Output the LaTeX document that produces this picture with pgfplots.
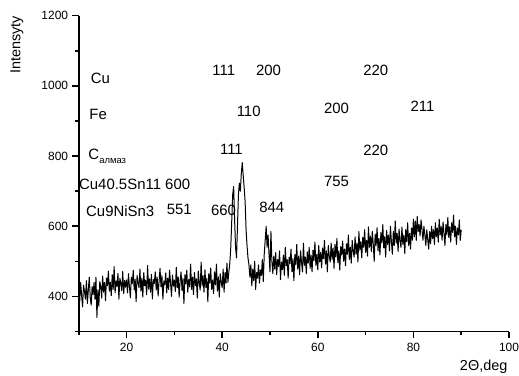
\documentclass[border=0pt]{standalone}
\usepackage{pgfplots}
\pgfplotsset{compat=1.18}
\usepackage{pgfplotstable}
\usepackage{fontspec}
\setmainfont{Liberation Sans}
\pgfplotstableread{
x y
10.0 422
10.2 385
10.4 440
10.6 402
10.8 370
11.0 432
11.2 415
11.4 392
11.6 445
11.8 380
12.0 418
12.2 455
12.4 398
12.6 375
12.8 428
13.0 405
13.2 440
13.4 392
13.6 455
13.8 340
14.0 418
14.2 372
14.4 442
14.6 428
14.8 395
15.0 458
15.2 412
15.4 440
15.6 388
15.8 452
16.0 430
16.2 472
16.4 415
16.6 441
16.8 402
17.0 462
17.2 420
17.4 485
17.6 410
17.8 444
18.0 429
18.2 466
18.4 392
18.6 452
18.8 438
19.0 416
19.2 471
19.4 408
19.6 446
19.8 426
20.0 447
20.2 410
20.4 465
20.6 428
20.8 396
21.0 455
21.2 437
21.4 474
21.6 418
21.8 449
22.0 385
22.2 460
22.4 440
22.6 425
22.8 478
23.0 415
23.2 452
23.4 398
23.6 468
23.8 430
24.0 446
24.2 405
24.4 488
24.6 421
24.8 450
25.0 412
25.2 463
25.4 393
25.6 448
25.8 437
26.0 470
26.2 418
26.4 455
26.6 401
26.8 442
27.0 480
27.2 427
27.4 459
27.6 392
27.8 444
28.0 433
28.2 467
28.4 410
28.6 452
28.8 420
29.0 475
29.2 438
29.4 400
29.6 461
29.8 429
30.0 447
30.2 414
30.4 483
30.6 425
30.8 456
31.0 398
31.2 443
31.4 470
31.6 417
31.8 451
32.0 380
32.2 462
32.4 436
32.6 475
32.8 412
33.0 448
33.2 427
33.4 492
33.6 420
33.8 455
34.0 405
34.2 468
34.4 431
34.6 450
34.8 395
35.0 472
35.2 440
35.4 418
35.6 498
35.8 430
36.0 459
36.2 412
36.4 476
36.6 425
36.8 452
37.0 385
37.2 465
37.4 438
37.6 481
37.8 420
38.0 447
38.2 408
38.4 470
38.6 433
38.8 492
39.0 415
39.2 456
39.4 398
39.6 464
39.8 441
40.0 425
40.2 478
40.4 412
40.6 468
40.8 438
41.0 495
41.2 440
41.4 470
41.6 495
41.8 540
42.0 615
42.2 690
42.4 713
42.6 620
42.8 540
43.0 510
43.2 600
43.4 690
43.6 723
43.8 700
44.0 750
44.2 781
44.4 745
44.6 710
44.8 670
45.0 590
45.2 545
45.4 510
45.6 490
45.8 455
46.0 490
46.2 430
46.4 478
46.6 445
46.8 500
47.0 420
47.2 468
47.4 452
47.6 490
47.8 438
48.0 475
48.2 460
48.4 505
48.6 442
48.8 520
49.0 560
49.2 600
49.4 540
49.6 575
49.8 520
50.0 470
50.2 585
50.4 500
50.6 465
50.8 515
51.0 478
51.2 525
51.4 462
51.6 505
51.8 485
52.0 530
52.2 448
52.4 498
52.6 476
52.8 518
53.0 460
53.2 540
53.4 487
53.6 505
53.8 452
54.0 512
54.2 494
54.4 535
54.6 470
54.8 508
55.0 445
55.2 520
55.4 490
55.6 548
55.8 478
56.0 515
56.2 462
56.4 530
56.6 497
56.8 470
57.0 552
57.2 488
57.4 512
57.6 465
57.8 527
58.0 495
58.2 540
58.4 480
58.6 518
58.8 470
59.0 532
59.2 502
59.4 555
59.6 488
59.8 520
60.0 476
60.2 545
60.4 498
60.6 526
60.8 482
61.0 538
61.2 508
61.4 560
61.6 492
61.8 530
62.0 470
62.2 545
62.4 515
62.6 498
62.8 552
63.0 505
63.2 538
63.4 480
63.6 548
63.8 512
64.0 565
64.2 496
64.4 530
64.6 475
64.8 542
65.0 518
65.2 558
65.4 500
65.6 535
65.8 488
66.0 550
66.2 520
66.4 575
66.6 505
66.8 540
67.0 495
67.2 560
67.4 528
67.6 512
67.8 570
68.0 520
68.2 552
68.4 498
68.6 585
68.8 532
69.0 556
69.2 510
69.4 568
69.6 540
69.8 590
70.0 525
70.2 560
70.4 515
70.6 598
70.8 540
71.0 572
71.2 528
71.4 585
71.6 550
71.8 500
72.0 578
72.2 545
72.4 596
72.6 530
72.8 565
73.0 518
73.2 582
73.4 552
73.6 605
73.8 538
74.0 570
74.2 512
74.4 588
74.6 548
74.8 575
75.0 530
75.2 600
75.4 556
75.6 520
75.8 585
76.0 545
76.2 615
76.4 552
76.6 580
76.8 528
77.0 592
77.2 560
77.4 540
77.6 598
77.8 548
78.0 575
78.2 522
78.4 590
78.6 556
78.8 610
79.0 545
79.2 580
79.4 535
79.6 595
79.8 560
80.0 620
80.2 570
80.4 615
80.6 560
80.8 628
81.0 585
81.2 605
81.4 572
81.6 618
81.8 590
82.0 560
82.2 600
82.4 575
82.6 545
82.8 590
83.0 562
83.2 535
83.4 585
83.6 550
83.8 600
84.0 565
84.2 590
84.4 548
84.6 610
84.8 570
85.0 595
85.2 555
85.4 620
85.6 575
85.8 600
86.0 560
86.2 612
86.4 580
86.6 545
86.8 605
87.0 575
87.2 625
87.4 568
87.6 598
87.8 555
88.0 610
88.2 582
88.4 632
88.6 570
88.8 600
89.0 548
89.2 595
89.4 575
89.6 618
89.8 560
90.0 590
}\xrd
\begin{document}
\begin{tikzpicture}
\begin{axis}[
  scale only axis,
  width=430.5bp, height=316bp,
  xmin=10, xmax=100, ymin=300, ymax=1200,
  axis lines=left,
  axis line style={-, line width=1.8bp},
  xtick={20,40,60,80,100},
  ytick={400,600,800,1000,1200},
  minor xtick={10,30,50,70,90},
  minor ytick={300,500,700,900,1100},
  tick align=outside,
  major tick length=6.5bp,
  minor tick length=3.5bp,
  every tick/.style={black, line width=1.6bp},
  /pgf/number format/assume math mode=true,
  /pgf/number format/1000 sep={},
  tick label style={font=\fontsize{12}{14}\selectfont},
  yticklabel style={inner sep=0pt, anchor=east, xshift=-4bp},
  xticklabel style={inner sep=0pt, anchor=north, yshift=-4.5bp},
  clip=false,
]
\addplot[black, line width=1bp, line join=round] table[x=x,y=y] {\xrd};
\coordinate (BL) at (rel axis cs:0,0);
\coordinate (TR) at (rel axis cs:1,1);
\begin{scope}[every node/.style={anchor=base west, inner sep=0pt, font=\fontsize{15}{17}\selectfont}]
\node at (axis cs:12.49,1007.4) {Cu};
\node at (axis cs:12.20,902.9) {Fe};
\node at (axis cs:11.99,791.0) {C\raisebox{-4.7bp}{\fontsize{9.5}{10}\selectfont алмаз}};
\node at (axis cs:10.04,703.6) {Cu40.5Sn11 600};
\node at (axis cs:11.51,627.5) {Cu9NiSn3};
\node at (axis cs:28.38,632.4) {551};
\node at (axis cs:37.91,1028.2) {111};
\node at (axis cs:47.05,1028.2) {200};
\node at (axis cs:69.48,1028.2) {220};
\node at (axis cs:43.01,912.3) {110};
\node at (axis cs:61.27,922.0) {200};
\node at (axis cs:79.39,926.6) {211};
\node at (axis cs:39.52,803.2) {111};
\node at (axis cs:69.48,800.4) {220};
\node at (axis cs:61.27,713.0) {755};
\node at (axis cs:37.64,630.4) {660};
\node at (axis cs:47.74,640.0) {844};
\end{scope}
\node[rotate=90, inner sep=0pt, font=\fontsize{14.5}{16}\selectfont] at ([xshift=-62bp]rel axis cs:0,0.907) {Intensyty};
\node[inner sep=0pt, font=\fontsize{14.5}{16}\selectfont] at ([yshift=-35.3bp]axis cs:94.7,300) {2Θ,deg};
\end{axis}
\pgfresetboundingbox
\path[use as bounding box] ([xshift=-78.8bp,yshift=-44.3bp]BL) rectangle ([xshift=10bp,yshift=15.7bp]TR);
\end{tikzpicture}
\end{document}
